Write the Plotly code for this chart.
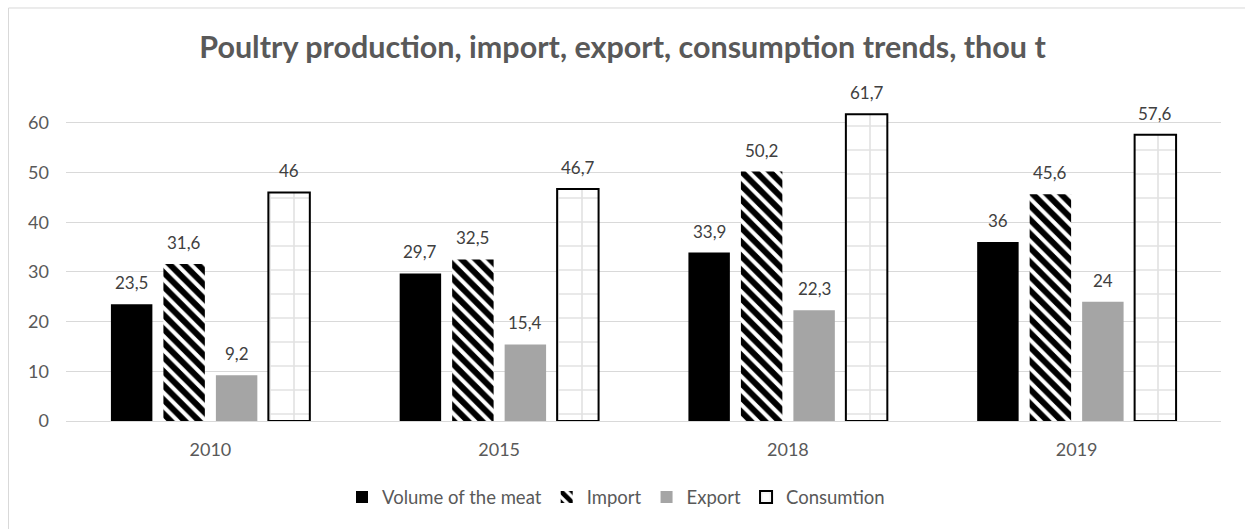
import plotly.graph_objects as go

categories = ["2010", "2015", "2018", "2019"]
volume = [23.5, 29.7, 33.9, 36]
imports = [31.6, 32.5, 50.2, 45.6]
exports = [9.2, 15.4, 22.3, 24]
consumption = [46, 46.7, 61.7, 57.6]
series_names = ["Volume of the meat", "Import", "Export", "Consumtion"]
y_ticks = [0, 10, 20, 30, 40, 50, 60]

FONT = "Lato"
TXT = "#404040"
GRAY = "#595959"


def lab(vals):
    return [f"{v:g}".replace(".", ",") for v in vals]


W, H = 1245, 529
ml, mr, mt, mb = 66, 24, 90, 106
PH = H - mt - mb
BARGAP, GROUPGAP = 0.273, 0.21

fig = go.Figure()
fig.add_trace(go.Bar(x=categories, y=volume, name=series_names[0],
                     marker=dict(color="black", line=dict(width=0))))
fig.add_trace(go.Bar(x=categories, y=imports, name=series_names[1],
                     marker=dict(color="white", line=dict(width=0),
                                 pattern=dict(shape="\\", fgcolor="#000000", bgcolor="white",
                                              fgopacity=1, fillmode="replace",
                                              size=10, solidity=0.6))))
fig.add_trace(go.Bar(x=categories, y=exports, name=series_names[2],
                     marker=dict(color="#a5a5a5", line=dict(width=0))))
fig.add_trace(go.Bar(x=categories, y=consumption, name=series_names[3],
                     marker=dict(color="white", line=dict(width=2, color="black"),
                                 pattern=dict(shape="+", fgcolor="#c4c4c4", bgcolor="white",
                                              size=24, solidity=0.13))))

# value labels above bars (placed at each bar's data position, shifted to its group slot)
cat_px = (W - ml - mr) / len(categories)
slot_px = cat_px * (1 - BARGAP) / 4
annotations = []
for i, vals in enumerate([volume, imports, exports, consumption]):
    for j, v in enumerate(vals):
        annotations.append(dict(x=j, y=v, xref="x", yref="y", text=lab([v])[0],
                                showarrow=False, xshift=(i - 1.5) * slot_px, yshift=9,
                                yanchor="bottom", font=dict(size=17, color=TXT, family=FONT)))

fig.update_layout(
    width=W, height=H,
    margin=dict(l=ml, r=mr, t=mt, b=mb),
    paper_bgcolor="white", plot_bgcolor="white",
    barmode="group", bargap=BARGAP, bargroupgap=GROUPGAP,
    font=dict(family=FONT, color=GRAY, size=18),
    title=dict(text="<b>Poultry production, import, export, consumption trends, thou t</b>",
               x=0.5, xanchor="center", xref="container", y=1 - 47 / H, yanchor="middle",
               yref="container", font=dict(size=30.5, color=GRAY, family=FONT)),
    xaxis=dict(type="category", showgrid=False, showline=True, linecolor="#d9d9d9",
               linewidth=1, ticks="", ticklabelstandoff=12,
               range=[-0.5, len(categories) - 0.5],
               tickfont=dict(size=18, color=GRAY)),
    yaxis=dict(range=[0, 66.6], tickvals=y_ticks, showgrid=True, gridcolor="#d9d9d9",
               gridwidth=1, zeroline=False, showline=False, ticks="",
               ticklabelstandoff=16, tickfont=dict(size=18, color=GRAY)),
    legend=dict(orientation="h", x=(616 - ml) / (W - ml - mr), xanchor="center",
                y=(423 - 500) / PH, yanchor="middle", font=dict(size=18.5, color=GRAY),
                itemwidth=30, traceorder="normal"),
    annotations=annotations,
    shapes=[dict(type="rect", xref="paper", yref="paper",
                 x0=(8.5 - ml) / (W - ml - mr), x1=1.2,
                 y0=-0.6, y1=(423 - 7.5) / PH,
                 line=dict(color="#d9d9d9", width=1), fillcolor="rgba(0,0,0,0)", layer="below")],
)

fig.write_html("out.html")
